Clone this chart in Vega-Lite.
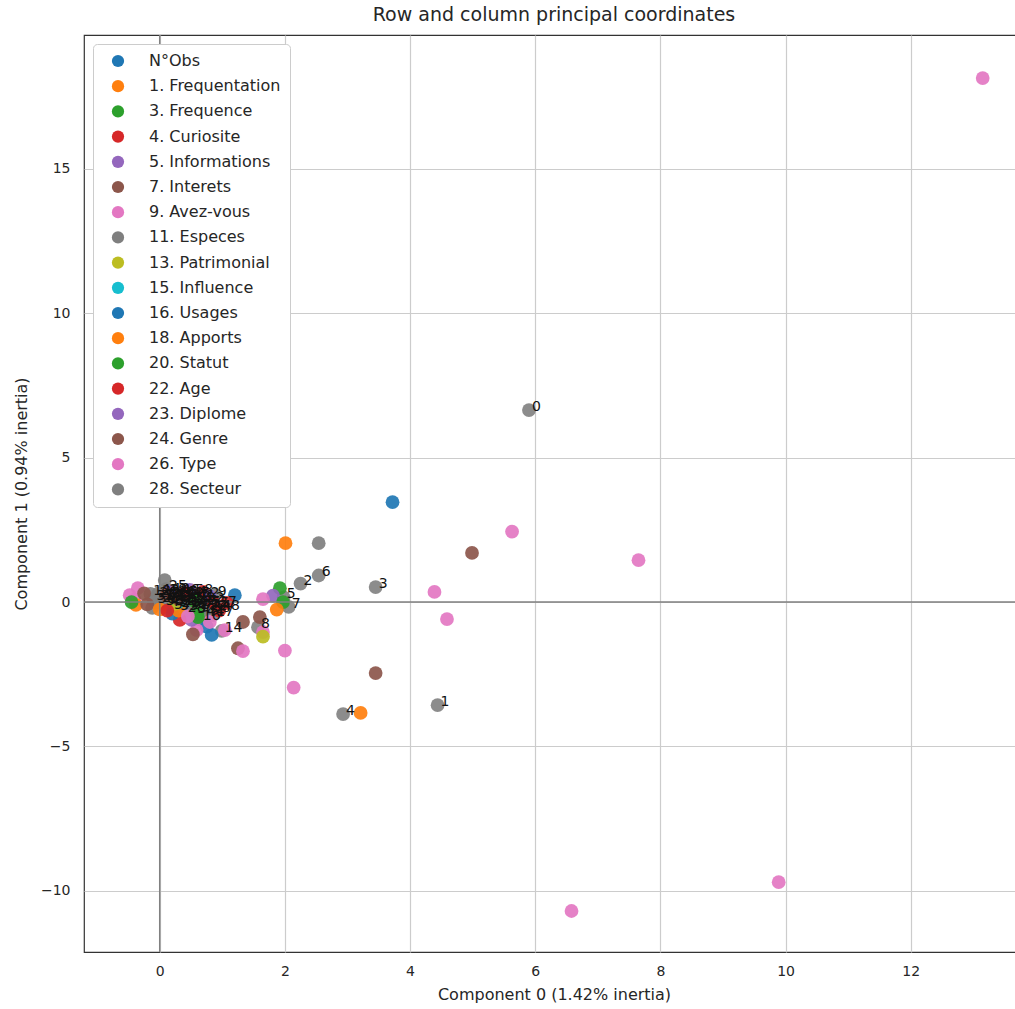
{
  "$schema": "https://vega.github.io/schema/vega-lite/v6.json",
  "autosize": "none",
  "width": 940,
  "height": 917,
  "padding": {"left": 84, "top": 35, "right": 0, "bottom": 57},
  "background": "white",
  "title": {"text": "Row and column principal coordinates", "fontSize": 19, "fontWeight": "normal", "font": "DejaVu Sans", "color": "#262626", "offset": 9, "anchor": "middle"},
  "config": {
    "view": {"stroke": "#333333", "strokeWidth": 1.2},
    "axis": {"grid": true, "gridColor": "#cccccc", "gridWidth": 1.2, "domain": false, "ticks": false, "labelFont": "DejaVu Sans", "labelFontSize": 14, "labelColor": "#262626", "titleFont": "DejaVu Sans", "titleFontSize": 16, "titleFontWeight": "normal", "titleColor": "#262626"}
  },
  "datasets": {
    "rows": [
      {"x": 5.90, "y": 6.65, "label": "0"},
      {"x": 4.44, "y": -3.57, "label": "1"},
      {"x": 2.25, "y": 0.64, "label": "2"},
      {"x": 3.45, "y": 0.52, "label": "3"},
      {"x": 2.93, "y": -3.88, "label": "4"},
      {"x": 1.98, "y": 0.16, "label": "5"},
      {"x": 2.54, "y": 0.92, "label": "6"},
      {"x": 2.06, "y": -0.17, "label": "7"},
      {"x": 1.57, "y": -0.87, "label": "8"},
      {"x": 0.88, "y": 0.25, "label": "9"},
      {"x": 0.05, "y": 0.15, "label": "10"},
      {"x": 0.35, "y": 0.05, "label": "11"},
      {"x": -0.15, "y": 0.28, "label": "12"},
      {"x": 0.6, "y": -0.2, "label": "13"},
      {"x": 0.99, "y": -1.0, "label": "14"},
      {"x": 0.2, "y": 0.1, "label": "15"},
      {"x": 0.64, "y": -0.6, "label": "16"},
      {"x": 0.85, "y": -0.45, "label": "17"},
      {"x": 0.1, "y": 0.3, "label": "18"},
      {"x": 0.45, "y": -0.1, "label": "19"},
      {"x": -0.05, "y": 0.2, "label": "20"},
      {"x": 0.3, "y": -0.15, "label": "21"},
      {"x": 0.75, "y": -0.25, "label": "22"},
      {"x": 0.15, "y": 0.22, "label": "23"},
      {"x": 0.5, "y": 0.0, "label": "24"},
      {"x": 0.1, "y": 0.45, "label": "25"},
      {"x": 0.25, "y": 0.25, "label": "26"},
      {"x": 0.9, "y": -0.1, "label": "27"},
      {"x": 0.4, "y": -0.3, "label": "28"},
      {"x": 0.0, "y": 0.05, "label": "29"},
      {"x": 0.55, "y": -0.35, "label": "30"},
      {"x": 0.2, "y": -0.05, "label": "31"},
      {"x": 0.7, "y": 0.05, "label": "32"},
      {"x": -0.1, "y": 0.1, "label": "33"},
      {"x": 0.35, "y": 0.2, "label": "34"},
      {"x": 0.65, "y": -0.1, "label": "35"},
      {"x": 0.05, "y": -0.05, "label": "36"},
      {"x": 0.45, "y": 0.15, "label": "37"},
      {"x": 0.8, "y": -0.3, "label": "38"},
      {"x": 0.25, "y": 0.0, "label": "39"},
      {"x": 0.15, "y": 0.35, "label": "40"},
      {"x": 0.55, "y": 0.1, "label": "41"},
      {"x": -0.02, "y": 0.3, "label": "42"},
      {"x": 0.38, "y": -0.05, "label": "43"},
      {"x": 0.7, "y": -0.45, "label": "44"},
      {"x": 0.12, "y": -0.1, "label": "45"},
      {"x": 0.3, "y": 0.3, "label": "46"},
      {"x": 0.58, "y": -0.05, "label": "47"},
      {"x": 0.95, "y": -0.25, "label": "48"},
      {"x": 0.22, "y": 0.15, "label": "49"},
      {"x": 0.48, "y": -0.2, "label": "50"},
      {"x": 0.08, "y": 0.12, "label": "51"},
      {"x": 0.62, "y": 0.2, "label": "52"},
      {"x": 0.28, "y": -0.25, "label": "53"},
      {"x": 0.42, "y": 0.25, "label": "54"},
      {"x": 0.78, "y": -0.15, "label": "55"},
      {"x": -0.08, "y": 0.0, "label": "56"},
      {"x": 0.18, "y": -0.2, "label": "57"},
      {"x": 0.52, "y": 0.3, "label": "58"}
    ],
    "cols": [
      {"x": 13.15, "y": 18.15, "cat": "26. Type"},
      {"x": 3.72, "y": 3.46, "cat": "16. Usages"},
      {"x": 5.63, "y": 2.44, "cat": "9. Avez-vous"},
      {"x": 7.65, "y": 1.45, "cat": "26. Type"},
      {"x": 4.99, "y": 1.70, "cat": "24. Genre"},
      {"x": 2.01, "y": 2.04, "cat": "18. Apports"},
      {"x": 2.54, "y": 2.04, "cat": "11. Especes"},
      {"x": 4.39, "y": 0.35, "cat": "26. Type"},
      {"x": 4.59, "y": -0.59, "cat": "9. Avez-vous"},
      {"x": 3.45, "y": -2.46, "cat": "7. Interets"},
      {"x": 3.21, "y": -3.84, "cat": "1. Frequentation"},
      {"x": 2.14, "y": -2.96, "cat": "26. Type"},
      {"x": 2.0, "y": -1.68, "cat": "9. Avez-vous"},
      {"x": 9.89, "y": -9.70, "cat": "26. Type"},
      {"x": 6.58, "y": -10.7, "cat": "26. Type"},
      {"x": 1.92, "y": 0.48, "cat": "3. Frequence"},
      {"x": 1.81, "y": 0.22, "cat": "5. Informations"},
      {"x": 1.65, "y": 0.1, "cat": "9. Avez-vous"},
      {"x": 1.97, "y": 0.0, "cat": "20. Statut"},
      {"x": 1.87, "y": -0.26, "cat": "18. Apports"},
      {"x": 1.33, "y": -0.69, "cat": "24. Genre"},
      {"x": 1.6, "y": -0.52, "cat": "7. Interets"},
      {"x": 1.65, "y": -1.04, "cat": "26. Type"},
      {"x": 1.65, "y": -1.2, "cat": "13. Patrimonial"},
      {"x": 1.25, "y": -1.6, "cat": "7. Interets"},
      {"x": 1.33, "y": -1.7, "cat": "9. Avez-vous"},
      {"x": 1.2, "y": 0.24, "cat": "16. Usages"},
      {"x": 0.83, "y": -1.14, "cat": "16. Usages"},
      {"x": 0.75, "y": -0.85, "cat": "16. Usages"},
      {"x": 1.04, "y": -0.97, "cat": "26. Type"},
      {"x": 0.59, "y": -0.97, "cat": "9. Avez-vous"},
      {"x": 0.53, "y": -1.12, "cat": "24. Genre"},
      {"x": 0.51, "y": -0.62, "cat": "23. Diplome"},
      {"x": 0.8, "y": -0.69, "cat": "26. Type"},
      {"x": 0.48, "y": 0.42, "cat": "5. Informations"},
      {"x": 0.69, "y": 0.35, "cat": "4. Curiosite"},
      {"x": 1.07, "y": -0.03, "cat": "22. Age"},
      {"x": 0.95, "y": -0.3, "cat": "4. Curiosite"},
      {"x": 0.32, "y": -0.62, "cat": "22. Age"},
      {"x": 0.61, "y": -0.52, "cat": "20. Statut"},
      {"x": 0.08, "y": 0.76, "cat": "11. Especes"},
      {"x": -0.48, "y": 0.24, "cat": "26. Type"},
      {"x": -0.35, "y": 0.48, "cat": "9. Avez-vous"},
      {"x": -0.4, "y": 0.08, "cat": "26. Type"},
      {"x": -0.38, "y": -0.1, "cat": "1. Frequentation"},
      {"x": -0.12, "y": -0.2, "cat": "28. Secteur"},
      {"x": -0.2, "y": -0.08, "cat": "7. Interets"},
      {"x": -0.45, "y": 0.0, "cat": "3. Frequence"},
      {"x": 0.15, "y": 0.35, "cat": "23. Diplome"},
      {"x": 0.2, "y": -0.4, "cat": "16. Usages"},
      {"x": 0.3, "y": -0.3, "cat": "18. Apports"},
      {"x": 0.6, "y": -0.4, "cat": "3. Frequence"},
      {"x": 0.45, "y": -0.5, "cat": "26. Type"},
      {"x": 0.4, "y": 0.3, "cat": "4. Curiosite"},
      {"x": 0.1, "y": 0.25, "cat": "24. Genre"},
      {"x": 0.3, "y": 0.0, "cat": "15. Influence"},
      {"x": 0.25, "y": -0.05, "cat": "13. Patrimonial"},
      {"x": 0.8, "y": 0.2, "cat": "23. Diplome"},
      {"x": 0.85, "y": 0.0, "cat": "22. Age"},
      {"x": 0.3, "y": 0.1, "cat": "7. Interets"},
      {"x": 0.0, "y": -0.25, "cat": "1. Frequentation"},
      {"x": 0.12, "y": -0.3, "cat": "22. Age"},
      {"x": 0.55, "y": 0.05, "cat": "20. Statut"},
      {"x": -0.25, "y": 0.3, "cat": "24. Genre"}
    ]
  },
  "layer": [
    {
      "data": {"name": "rows"},
      "mark": {"type": "circle", "size": 190, "color": "#7f7f7f", "opacity": 0.9},
      "encoding": {
        "x": {"field": "x", "type": "quantitative", "scale": {"domain": [-1.21, 13.81], "nice": false, "zero": false}, "axis": {"values": [0, 2, 4, 6, 8, 10, 12], "format": "d", "title": "Component 0 (1.42% inertia)", "labelPadding": 12, "titlePadding": 8}},
        "y": {"field": "y", "type": "quantitative", "scale": {"domain": [-12.12, 19.64], "nice": false, "zero": false}, "axis": {"values": [-10, -5, 0, 5, 10, 15], "format": "d", "title": "Component 1 (0.94% inertia)", "labelPadding": 14, "titlePadding": 11}}
      }
    },
    {
      "data": {"name": "cols"},
      "mark": {"type": "circle", "size": 190, "opacity": 0.92},
      "encoding": {
        "x": {"field": "x", "type": "quantitative"},
        "y": {"field": "y", "type": "quantitative"},
        "color": {
          "field": "cat", "type": "nominal",
          "scale": {
            "domain": ["N°Obs", "1. Frequentation", "3. Frequence", "4. Curiosite", "5. Informations", "7. Interets", "9. Avez-vous", "11. Especes", "13. Patrimonial", "15. Influence", "16. Usages", "18. Apports", "20. Statut", "22. Age", "23. Diplome", "24. Genre", "26. Type", "28. Secteur"],
            "range": ["#1f77b4", "#ff7f0e", "#2ca02c", "#d62728", "#9467bd", "#8c564b", "#e377c2", "#7f7f7f", "#bcbd22", "#17becf", "#1f77b4", "#ff7f0e", "#2ca02c", "#d62728", "#9467bd", "#8c564b", "#e377c2", "#7f7f7f"]
          },
          "legend": {"orient": "none", "legendX": 9, "legendY": 9, "title": null, "padding": 9, "symbolOffset": 8, "labelOffset": 23, "rowPadding": 9.2, "symbolSize": 150, "symbolType": "circle", "symbolStrokeWidth": 0, "symbolOpacity": 1, "labelFontSize": 16, "labelFont": "DejaVu Sans", "labelColor": "#262626", "fillColor": "white", "strokeColor": "#cccccc", "cornerRadius": 4, "labelLimit": 300}
        }
      }
    },
    {
      "data": {"values": [{}]},
      "mark": {"type": "rule", "color": "#808080", "strokeWidth": 1.5},
      "encoding": {"x": {"datum": 0, "type": "quantitative"}}
    },
    {
      "data": {"values": [{}]},
      "mark": {"type": "rule", "color": "#808080", "strokeWidth": 1.5},
      "encoding": {"y": {"datum": 0, "type": "quantitative"}}
    },
    {
      "data": {"name": "rows"},
      "mark": {"type": "text", "align": "left", "baseline": "alphabetic", "dx": 3, "dy": 1, "fontSize": 14, "font": "DejaVu Sans", "color": "#111111"},
      "encoding": {
        "x": {"field": "x", "type": "quantitative"},
        "y": {"field": "y", "type": "quantitative"},
        "text": {"field": "label", "type": "nominal"}
      }
    }
  ]
}
